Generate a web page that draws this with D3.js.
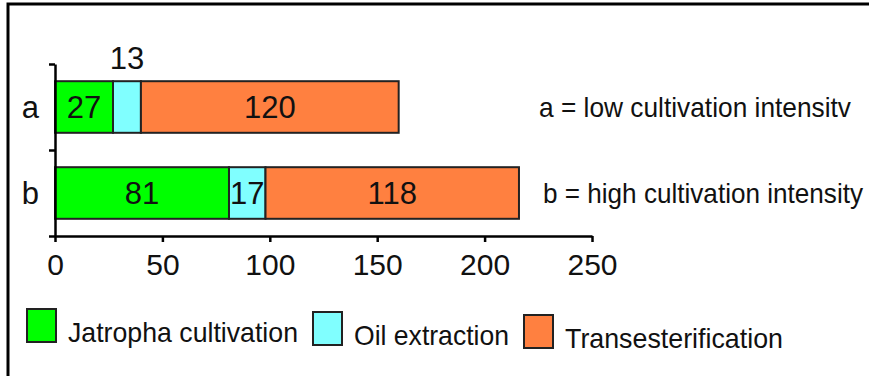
<!DOCTYPE html>
<html lang="en">
<head>
  <meta charset="UTF-8">
  <title>Jatropha biodiesel energy use</title>
  <script src="https://d3js.org/d3.v7.min.js"></script>
  <style>
    body { margin: 0; background: #fff; }
    svg text { font-family: "Liberation Sans", Arial, sans-serif; fill: #111; }
    .axis path, .axis line { stroke: #000; stroke-width: 2.5; }
    .axis text { font-size: 30px; }
  </style>
</head>
<body>
  <div id="chart"></div>

  <script>
    // data
    const categories = ["a", "b"];
    const series = ["Jatropha cultivation", "Oil extraction", "Transesterification"];
    const jatropha = [27, 81];
    const oil = [13, 17];
    const trans = [120, 118];
    const xTicks = [0, 50, 100, 150, 200, 250];
    const notes = ["a = low cultivation intensitv", "b = high cultivation intensity"];
    const colors = ["#00ff00", "#80ffff", "#ff8040"];

    const W = 869, H = 376;

    const svg = d3.select("#chart")
      .append("svg")
      .attr("width", W)
      .attr("height", H);

    // outer frame (only top and left edges show)
    svg.append("path")
      .attr("d", `M8,${H} L8,4 L${W},4`)
      .attr("fill", "none")
      .attr("stroke", "#000")
      .attr("stroke-width", 3);

    const x = d3.scaleLinear().domain([0, 250]).range([55, 592]);
    const y = d3.scaleBand()
      .domain(categories)
      .range([64, 236])
      .paddingInner(0.4)
      .paddingOuter(0.2);
    const yEdge = d3.scaleLinear().domain([0, categories.length]).range([64, 236]);

    const stacked = d3.stack().keys([0, 1, 2])(
      categories.map((c, i) => ({ cat: c, 0: jatropha[i], 1: oil[i], 2: trans[i] }))
    );

    // bars
    stacked.forEach((layer, k) => {
      svg.selectAll(".bar" + k)
        .data(layer)
        .enter()
        .append("rect")
        .attr("x", d => x(d[0]))
        .attr("y", d => y(d.data.cat))
        .attr("width", d => x(d[1]) - x(d[0]))
        .attr("height", y.bandwidth())
        .attr("fill", colors[k])
        .attr("stroke", "#222")
        .attr("stroke-width", 2);
    });

    // value labels
    stacked.forEach((layer, k) => {
      svg.selectAll(".lab" + k)
        .data(layer)
        .enter()
        .append("text")
        .attr("x", d => (x(d[0]) + x(d[1])) / 2)
        .attr("y", d => {
          // the small oil bar in "a" gets its label above the bar
          if (k === 1 && d.data.cat === "a") return y(d.data.cat) - 12;
          return y(d.data.cat) + y.bandwidth() / 2 + 11;
        })
        .attr("text-anchor", "middle")
        .style("font-size", "31px")
        .text(d => d[1] - d[0]);
    });

    // x axis
    svg.append("g")
      .attr("class", "axis")
      .attr("transform", `translate(0, 236)`)
      .call(d3.axisBottom(x).tickValues(xTicks).tickSize(6).tickSizeOuter(0).tickPadding(12))
      .call(g => g.selectAll("text").attr("dy", "0.71em"));

    // y axis: ticks at the band edges
    svg.append("g")
      .attr("class", "axis")
      .attr("transform", `translate(55, 0)`)
      .call(d3.axisLeft(yEdge).tickValues(d3.range(categories.length + 1)).tickFormat("").tickSize(6).tickSizeOuter(0));

    svg.selectAll(".cat")
      .data(categories)
      .enter()
      .append("text")
      .attr("x", 39)
      .attr("y", d => y(d) + y.bandwidth() / 2 + 11)
      .attr("text-anchor", "end")
      .style("font-size", "31px")
      .text(d => d);

    // notes on the right
    const noteWidths = [312, 320];
    svg.selectAll(".note")
      .data(notes)
      .enter()
      .append("text")
      .attr("x", (d, i) => 539 + i * 4)
      .attr("y", (d, i) => y(categories[i]) + y.bandwidth() / 2 + 10)
      .attr("textLength", (d, i) => noteWidths[i])
      .attr("lengthAdjust", "spacingAndGlyphs")
      .style("font-size", "28px")
      .text(d => d);

    // legend
    const textWidths = [230, 155, 218];
    let lx = 27;
    series.forEach((s, i) => {
      svg.append("rect")
        .attr("x", lx)
        .attr("y", 309 + i * 3)
        .attr("width", 29)
        .attr("height", 33)
        .attr("fill", colors[i])
        .attr("stroke", "#222")
        .attr("stroke-width", 2);
      lx += 29 + 12;
      svg.append("text")
        .attr("x", lx)
        .attr("y", 342 + i * 3)
        .attr("textLength", textWidths[i])
        .attr("lengthAdjust", "spacingAndGlyphs")
        .style("font-size", "28px")
        .text(s);
      lx += textWidths[i] + 15;
    });
  </script>
</body>
</html>
